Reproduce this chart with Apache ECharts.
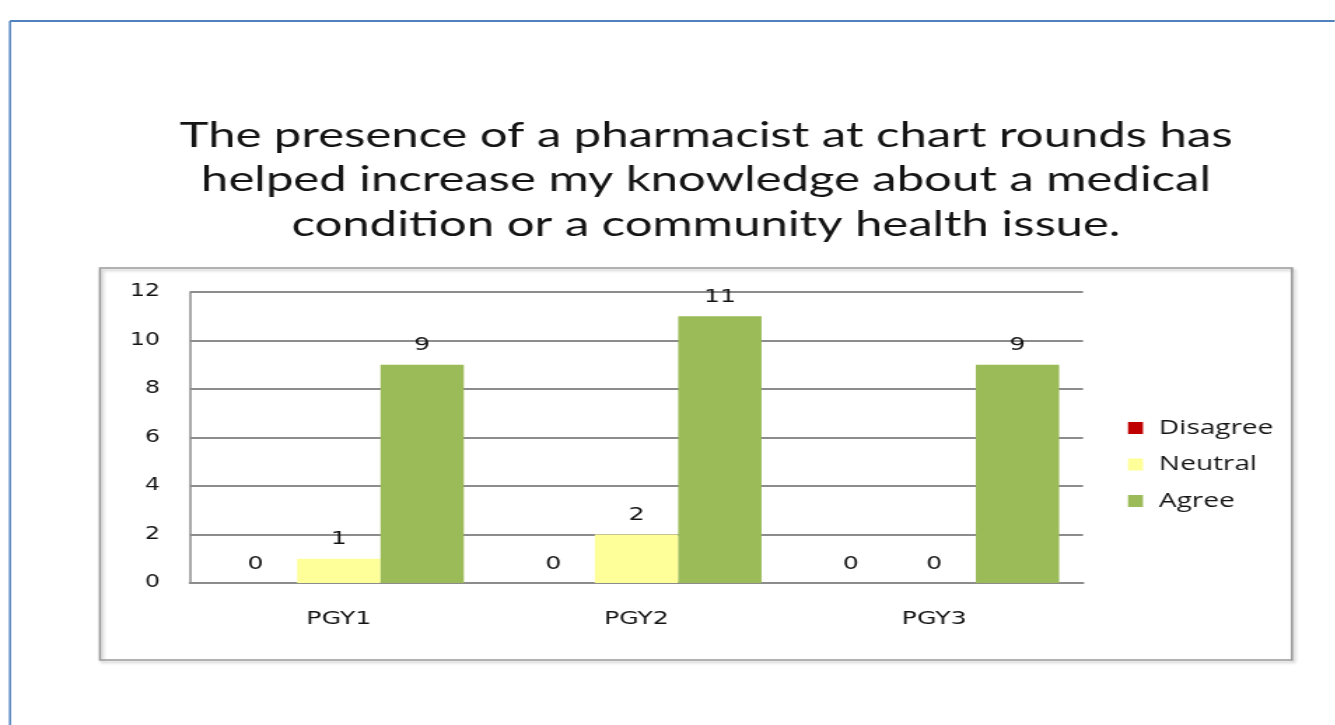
<!DOCTYPE html>
<html><head><meta charset="utf-8">
<script src="https://cdn.jsdelivr.net/npm/echarts@6/dist/echarts.min.js"></script>
<style>
html,body{margin:0;padding:0;background:#fff;overflow:hidden;width:1335px;height:725px}
#c{width:953.57px;height:725px;transform:scaleX(1.4);transform-origin:0 0}
</style>
</head><body><div id="c"></div>
<script>
const categories = ['PGY1', 'PGY2', 'PGY3'];
const seriesNames = ['Disagree', 'Neutral', 'Agree'];
const disagree = [0, 0, 0];
const neutral = [1, 2, 0];
const agree = [9, 11, 9];
const yTicks = [0, 2, 4, 6, 8, 10, 12];
const titleText = 'The presence of a pharmacist at chart rounds has\nhelped increase my knowledge about a medical\ncondition or a community health issue.';
const colors = ['#c00000', '#ffff99', '#9bbb59'];

// the reference image is stretched horizontally; the whole chart is drawn in
// a narrower box and stretched by S with CSS, so x positions below are divided by S
const S = 1.4;
const X = v => v / S;

const chart = echarts.init(document.getElementById('c'), null, {renderer: 'canvas'});
const font = '"DejaVu Sans", Verdana, sans-serif';
const ink = '#141414';
const lbl = {show: true, position: 'top', distance: 10, fontFamily: font, fontSize: 18, color: ink};
const data = [disagree, neutral, agree];
chart.setOption({
  animation: false,
  color: colors,
  graphic: [
    {type: 'line', shape: {x1: X(10), y1: 21, x2: X(10), y2: 725}, style: {stroke: '#4f81bd', lineWidth: 1.5}},
    {type: 'line', shape: {x1: X(10), y1: 21, x2: X(1335), y2: 21}, style: {stroke: '#4f81bd', lineWidth: 2}},
    {type: 'rect', shape: {x: X(100), y: 268, width: X(1192), height: 392}, style: {fill: 'none', stroke: '#9a9a9a', lineWidth: 1.6, shadowColor: 'rgba(0,0,0,0.25)', shadowBlur: 3, shadowOffsetX: 1.5, shadowOffsetY: 2}, z: -1}
  ],
  title: {
    text: titleText, left: X(699), top: 108, textAlign: 'center',
    textStyle: {fontFamily: 'Lato, "Open Sans", sans-serif', fontSize: 35, fontWeight: 'normal', color: ink, lineHeight: 44.5}
  },
  legend: {
    orient: 'vertical', left: X(1128), top: 418, padding: 0, itemWidth: X(15), itemHeight: 12, itemGap: 16.5, icon: 'rect',
    data: seriesNames,
    textStyle: {fontFamily: '"Open Sans", sans-serif', fontSize: 20, color: ink, padding: [0, 0, 0, X(16) - 5]}
  },
  grid: {left: X(190), top: 292, width: X(893), height: 291, containLabel: false},
  xAxis: {
    type: 'category', data: categories,
    axisLine: {lineStyle: {color: '#8c8c8c', width: 2}},
    axisTick: {show: false},
    axisLabel: {margin: 27, fontFamily: font, fontSize: 18, color: ink}
  },
  yAxis: {
    type: 'value', min: yTicks[0], max: yTicks[yTicks.length - 1], interval: 2,
    axisLine: {show: true, lineStyle: {color: '#8c8c8c', width: 1.5}},
    axisTick: {show: false},
    axisLabel: {margin: X(30), fontFamily: font, fontSize: 17, color: ink},
    splitLine: {lineStyle: {color: '#8c8c8c', width: 2}}
  },
  series: seriesNames.map((n, i) => ({
    name: n, type: 'bar', data: data[i], barGap: '0%', barCategoryGap: '16%',
    label: lbl, itemStyle: {color: colors[i]}
  }))
});
</script></body></html>
